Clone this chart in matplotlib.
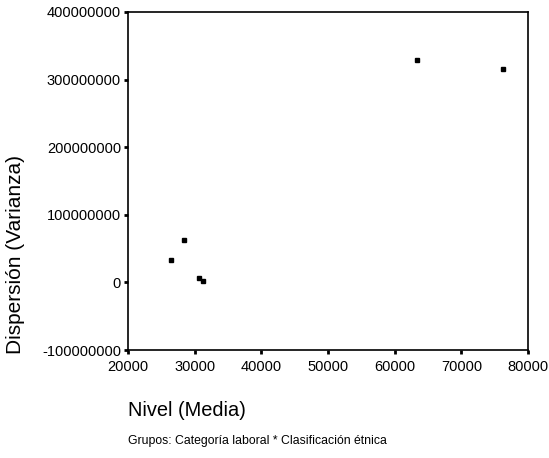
import matplotlib.pyplot as plt

plt.rcParams['font.family'] = ['Liberation Sans', 'DejaVu Sans']

# nivel (media) y dispersión (varianza) por grupo
media = [26400, 28350, 30600, 31200, 63350, 76200]
varianza = [33000000, 62500000, 6400000, 2000000, 329000000, 315000000]

x_ticks = [20000, 30000, 40000, 50000, 60000, 70000, 80000]
y_ticks = [-100000000, 0, 100000000, 200000000, 300000000, 400000000]

fig = plt.figure(figsize=(5.49, 4.58), dpi=100)
ax = fig.add_axes([128 / 549, 1 - 350 / 458, 400 / 549, 338 / 458])

ax.plot(media, varianza, linestyle='none', marker='s', markersize=3,
        color='black')

ax.set_xlim(20000, 80000)
ax.set_ylim(-100000000, 400000000)
ax.set_xticks(x_ticks)
ax.set_yticks(y_ticks)
ax.set_xticklabels([str(v) for v in x_ticks])
ax.set_yticklabels([str(v) for v in y_ticks])
ax.tick_params(direction='out', length=3, width=2, labelsize=10.5, pad=2)
ax.tick_params(axis='x', pad=4)
for s in ax.spines.values():
    s.set_linewidth(1.2)

fig.text(16 / 549, 1 - 255 / 458, 'Dispersión (Varianza)', fontsize=15,
         rotation=90, ha='center', va='center')
fig.text(128 / 549, 1 - 411 / 458, 'Nivel (Media)', fontsize=14.4,
         ha='left', va='center')
fig.text(128 / 549, 1 - 441 / 458,
         'Grupos: Categoría laboral * Clasificación étnica', fontsize=8.8,
         ha='left', va='center')

fig.savefig('out.png', dpi=100)
